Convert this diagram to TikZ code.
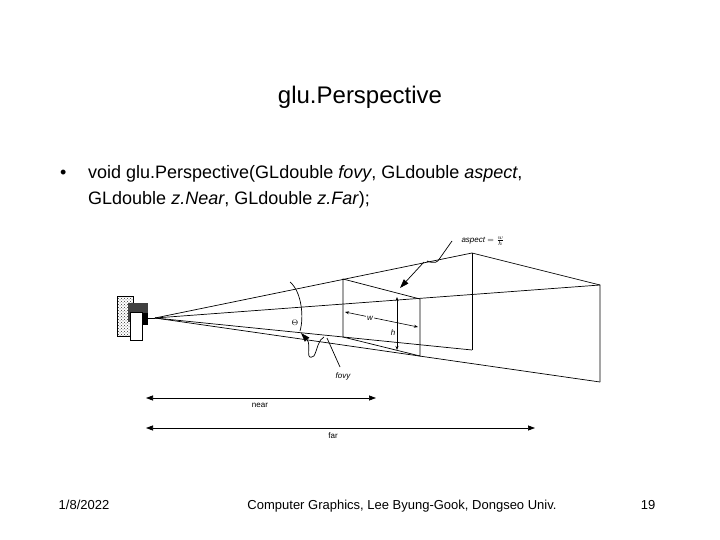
\documentclass[tikz,border=0pt]{standalone}
\usepackage{fontspec}
\setmainfont{Liberation Sans}
\usetikzlibrary{arrows.meta,patterns}
\begin{document}
\begin{tikzpicture}[x=1pt,y=-1pt,
  edge/.style={line width=0.7pt},
  dim/.style={line width=0.7pt,{Triangle[length=7pt,width=5pt]}-{Triangle[length=7pt,width=5pt]}},
  small/.style={{Stealth[length=4pt]}-{Stealth[length=4pt]},line width=0.6pt},
  lbl/.style={font=\fontsize{8}{9}\selectfont\itshape},
  body/.style={font=\fontsize{18}{22}\selectfont,anchor=base west,inner sep=0pt},
  foot/.style={font=\fontsize{13}{15}\selectfont,inner sep=0pt,anchor=base}]
\useasboundingbox (0,0) rectangle (720,540);
\node[font=\fontsize{24}{28}\selectfont] (title) at (360,97) {glu.Perspective};
\node[body] (b) at (60,179) {•};
\node[body] (l1) at (88,179) {void glu.Perspective(GLdouble \textit{fovy}, GLdouble \textit{aspect},};
\node[body] (l2) at (88,205) {GLdouble \textit{z.Near}, GLdouble \textit{z.Far});};
% camera
\fill[pattern=crosshatch dots, pattern color=black!80] (117,296) rectangle (133,336);
\draw[line width=0.6pt] (117,296) rectangle (133,336);
\fill[black!75] (128,303) rectangle (148,322);
\draw[fill=white,line width=0.6pt] (130,312) rectangle (142,340);
\fill[black] (142,313) rectangle (148,325);
\coordinate (E) at (155,318);
\coordinate (FTL) at (472,253); \coordinate (FTR) at (600,285);
\coordinate (FBR) at (600,382); \coordinate (FBL) at (472,350);
\coordinate (NTL) at (343,279); \coordinate (NTR) at (420,299);
\coordinate (NBR) at (420,356); \coordinate (NBL) at (343,337);
\draw[edge] (148,318) -- (E);
\foreach \c in {FTL,FTR,FBR,FBL} \draw[edge] (E) -- (\c);
\draw[edge] (FTL) -- (FTR) -- (FBR);
\draw[edge] (FTL) -- (FBL);
\draw[edge] (NTL) -- (NTR) -- (NBR) -- (NBL) -- cycle;
% h and w
\coordinate (h1) at (397,297); \coordinate (h2) at (397,350);
\draw[small] (h1) -- (h2);
\node[lbl] (hl) at (393,333) {h};
\coordinate (w1) at (345,312); \coordinate (w2) at (418,327);
\draw[small] (w1) -- (w2);
\node[lbl,fill=white,inner sep=1pt] (wl) at (370,318) {w};
% theta
\draw[edge] (290,282) .. controls (302,292) and (304,318) .. (300,331);
\node[font=\fontsize{8}{9}\selectfont] (th) at (295,323) {$\Theta$};
% fovy
\coordinate (fa) at (301,333);
\draw[edge,-{Triangle[length=9pt,width=6pt]}] (314,356) .. controls (304,362) and (312,345) .. (fa);
\draw[edge] (314,356) .. controls (318,348) and (318,340) .. (324,337);
\node[lbl] (fovy) at (343,376) {fovy};
\draw[edge] (340,367) -- (327,338);
% aspect
\node[lbl,anchor=west] (asp) at (458,241) {aspect $=\frac{w}{h}$};
\draw[edge] (452,241) -- (440,258) .. controls (435,268) and (425,258) .. (427,262);
\draw[edge,-{Triangle[length=9pt,width=6pt]}] (424,262) -- (400,288);
% near/far
\coordinate (n1) at (146,398); \coordinate (n2) at (376,398);
\draw[dim] (n1) -- (n2);
\node[font=\fontsize{8}{9}\selectfont] (near) at (260,405) {near};
\coordinate (f1) at (146,428); \coordinate (f2) at (535,428);
\draw[dim] (f1) -- (f2);
\node[font=\fontsize{8}{9}\selectfont] (far) at (333,436) {far};
% footer
\node[foot] (d) at (84,509) {1/8/2022};
\node[foot] (c) at (402,509) {Computer Graphics, Lee Byung-Gook, Dongseo Univ.};
\node[foot] (p) at (648,509) {19};
\end{tikzpicture}
\end{document}
